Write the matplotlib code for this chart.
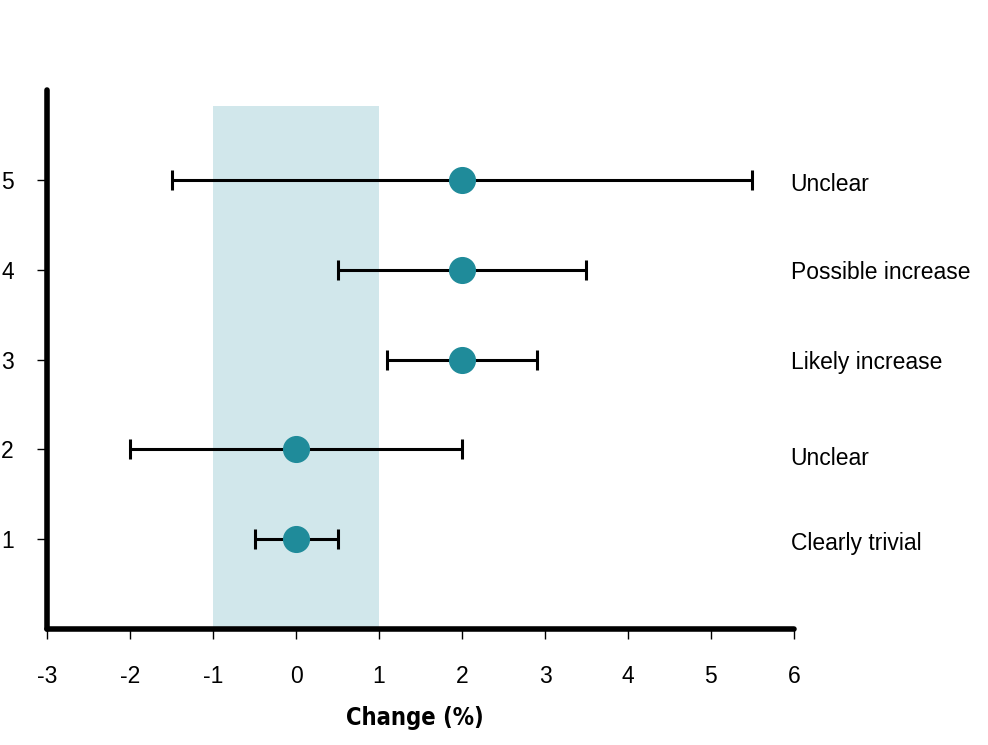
import matplotlib
matplotlib.use("Agg")
import matplotlib.pyplot as plt

trials = [1, 2, 3, 4, 5]
means = [0, 0, 2, 2, 2]
lower = [-0.5, -2, 1.1, 0.5, -1.5]
upper = [0.5, 2, 2.9, 3.5, 5.5]
labels = ["Clearly trivial", "Unclear", "Likely increase", "Possible increase", "Unclear"]
label_y = [0.95, 1.9, 2.97, 3.97, 4.95]
xticks = [-3, -2, -1, 0, 1, 2, 3, 4, 5, 6]

teal = "#1f8b9a"
shade = "#d1e7eb"

fig = plt.figure(figsize=(9.88, 7.45), dpi=100)
ax = fig.add_axes([0.0476, 0.1557, 0.756, 0.7233])

ax.axvspan(-1, 1, ymin=0, ymax=5.82 / 6, color=shade, zorder=0, lw=0)

xerr = [[m - l for m, l in zip(means, lower)], [u - m for m, u in zip(means, upper)]]
ax.errorbar(means, trials, xerr=xerr, fmt="none", ecolor="black", elinewidth=2.2,
            capsize=7.5, capthick=2.2, zorder=2)
ax.plot(means, trials, "o", color=teal, markersize=18.5, zorder=3)

for t, ly, lab in zip(trials, label_y, labels):
    ax.text(5.96, ly, lab, fontsize=16.5, family="Liberation Sans", va="center", ha="left",
            clip_on=False)

ax.set_xlim(-3, 6)
ax.set_ylim(0, 6)
ax.set_xticks(xticks)
ax.set_yticks(trials)
ax.set_xticklabels([str(v) for v in xticks], family="Liberation Sans", fontsize=16.5)
ax.set_yticklabels([str(v) for v in trials], family="Liberation Sans", fontsize=16.5)
ax.tick_params(axis="x", length=7, width=1, pad=19)
ax.tick_params(axis="y", length=7, width=1, pad=17)

for s in ["top", "right"]:
    ax.spines[s].set_visible(False)
for s in ["left", "bottom"]:
    ax.spines[s].set_linewidth(4)
    ax.spines[s].set_capstyle("round")

ax.set_xlabel("Change (%)", fontsize=17, fontweight="bold", family="DejaVu Sans",
              fontstretch="condensed")
ax.xaxis.set_label_coords(0.4926, -0.143)

fig.savefig("out.png", dpi=100)
